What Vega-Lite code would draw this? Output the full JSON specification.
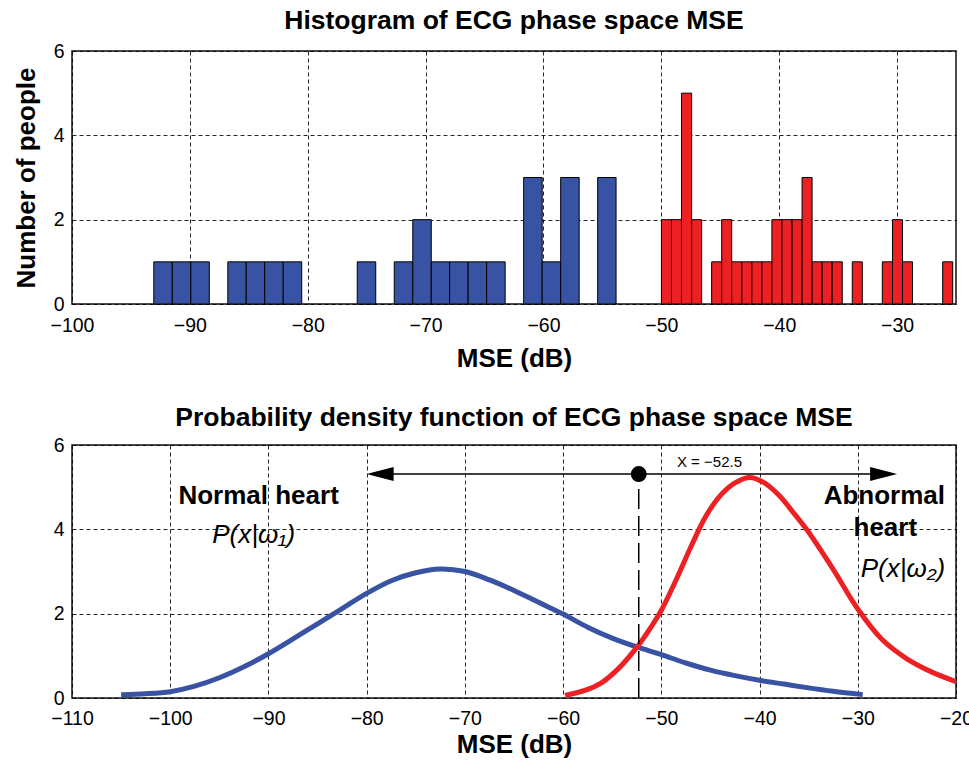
{
  "$schema": "https://vega.github.io/schema/vega-lite/v6.json",
  "background": "white",
  "padding": {"left": 12, "top": 6, "right": 0, "bottom": 5},
  "spacing": 30,
  "config": {
    "font": "Liberation Sans",
    "view": {"stroke": "#111", "strokeWidth": 1.5},
    "axis": {
      "grid": true, "gridColor": "#000", "gridDash": [4, 3], "gridWidth": 1, "gridOpacity": 0.85,
      "domain": false, "ticks": false,
      "labelFontSize": 19.5, "labelColor": "#000", "labelFont": "Liberation Sans",
      "titleFontSize": 26, "titleFontWeight": "bold", "titleColor": "#000", "titleFont": "Liberation Sans",
      "labelFlush": false, "labelOverlap": false, "labelPadding": 8
    },
    "title": {"fontSize": 26.5, "fontWeight": "bold", "color": "#000", "font": "Liberation Sans", "anchor": "middle"}
  },
  "datasets": {
    "bins": [
      {"start": -93.06, "end": -91.49, "count": 1, "group": "normal"},
      {"start": -91.49, "end": -89.92, "count": 1, "group": "normal"},
      {"start": -89.92, "end": -88.35, "count": 1, "group": "normal"},
      {"start": -86.78, "end": -85.22, "count": 1, "group": "normal"},
      {"start": -85.22, "end": -83.65, "count": 1, "group": "normal"},
      {"start": -83.65, "end": -82.08, "count": 1, "group": "normal"},
      {"start": -82.08, "end": -80.51, "count": 1, "group": "normal"},
      {"start": -75.80, "end": -74.23, "count": 1, "group": "normal"},
      {"start": -72.66, "end": -71.09, "count": 1, "group": "normal"},
      {"start": -71.09, "end": -69.52, "count": 2, "group": "normal"},
      {"start": -69.52, "end": -67.96, "count": 1, "group": "normal"},
      {"start": -67.96, "end": -66.39, "count": 1, "group": "normal"},
      {"start": -66.39, "end": -64.82, "count": 1, "group": "normal"},
      {"start": -64.82, "end": -63.25, "count": 1, "group": "normal"},
      {"start": -61.68, "end": -60.11, "count": 3, "group": "normal"},
      {"start": -60.11, "end": -58.54, "count": 1, "group": "normal"},
      {"start": -58.54, "end": -56.97, "count": 3, "group": "normal"},
      {"start": -55.40, "end": -53.84, "count": 3, "group": "normal"},
      {"start": -49.99, "end": -49.14, "count": 2, "group": "abnormal"},
      {"start": -49.14, "end": -48.29, "count": 2, "group": "abnormal"},
      {"start": -48.29, "end": -47.43, "count": 5, "group": "abnormal"},
      {"start": -47.43, "end": -46.58, "count": 2, "group": "abnormal"},
      {"start": -45.73, "end": -44.88, "count": 1, "group": "abnormal"},
      {"start": -44.88, "end": -44.03, "count": 2, "group": "abnormal"},
      {"start": -44.03, "end": -43.17, "count": 1, "group": "abnormal"},
      {"start": -43.17, "end": -42.32, "count": 1, "group": "abnormal"},
      {"start": -42.32, "end": -41.47, "count": 1, "group": "abnormal"},
      {"start": -41.47, "end": -40.62, "count": 1, "group": "abnormal"},
      {"start": -40.62, "end": -39.77, "count": 2, "group": "abnormal"},
      {"start": -39.77, "end": -38.91, "count": 2, "group": "abnormal"},
      {"start": -38.91, "end": -38.06, "count": 2, "group": "abnormal"},
      {"start": -38.06, "end": -37.21, "count": 3, "group": "abnormal"},
      {"start": -37.21, "end": -36.36, "count": 1, "group": "abnormal"},
      {"start": -36.36, "end": -35.51, "count": 1, "group": "abnormal"},
      {"start": -35.51, "end": -34.65, "count": 1, "group": "abnormal"},
      {"start": -33.80, "end": -32.95, "count": 1, "group": "abnormal"},
      {"start": -31.25, "end": -30.39, "count": 1, "group": "abnormal"},
      {"start": -30.39, "end": -29.54, "count": 2, "group": "abnormal"},
      {"start": -29.54, "end": -28.69, "count": 1, "group": "abnormal"},
      {"start": -26.13, "end": -25.28, "count": 1, "group": "abnormal"}
    ],
    "pdf": [
      {"mse": -105, "p": 0.08, "group": "normal"},
      {"mse": -102.5, "p": 0.10, "group": "normal"},
      {"mse": -100, "p": 0.15, "group": "normal"},
      {"mse": -97.5, "p": 0.28, "group": "normal"},
      {"mse": -95, "p": 0.48, "group": "normal"},
      {"mse": -92.5, "p": 0.74, "group": "normal"},
      {"mse": -90, "p": 1.05, "group": "normal"},
      {"mse": -87.5, "p": 1.40, "group": "normal"},
      {"mse": -85, "p": 1.76, "group": "normal"},
      {"mse": -82.5, "p": 2.12, "group": "normal"},
      {"mse": -80, "p": 2.48, "group": "normal"},
      {"mse": -77.5, "p": 2.78, "group": "normal"},
      {"mse": -75, "p": 2.97, "group": "normal"},
      {"mse": -72.5, "p": 3.06, "group": "normal"},
      {"mse": -70, "p": 3.0, "group": "normal"},
      {"mse": -67.5, "p": 2.8, "group": "normal"},
      {"mse": -65, "p": 2.55, "group": "normal"},
      {"mse": -62.5, "p": 2.27, "group": "normal"},
      {"mse": -60, "p": 1.99, "group": "normal"},
      {"mse": -57.5, "p": 1.68, "group": "normal"},
      {"mse": -55, "p": 1.42, "group": "normal"},
      {"mse": -52.5, "p": 1.21, "group": "normal"},
      {"mse": -50, "p": 1.03, "group": "normal"},
      {"mse": -47.5, "p": 0.83, "group": "normal"},
      {"mse": -45, "p": 0.66, "group": "normal"},
      {"mse": -42.5, "p": 0.53, "group": "normal"},
      {"mse": -40, "p": 0.42, "group": "normal"},
      {"mse": -37.5, "p": 0.33, "group": "normal"},
      {"mse": -35, "p": 0.24, "group": "normal"},
      {"mse": -32.5, "p": 0.16, "group": "normal"},
      {"mse": -29.5, "p": 0.08, "group": "normal"},
      {"mse": -59.8, "p": 0.06, "group": "abnormal"},
      {"mse": -57.8, "p": 0.18, "group": "abnormal"},
      {"mse": -56.1, "p": 0.36, "group": "abnormal"},
      {"mse": -54.4, "p": 0.69, "group": "abnormal"},
      {"mse": -52.5, "p": 1.2, "group": "abnormal"},
      {"mse": -51.0, "p": 1.7, "group": "abnormal"},
      {"mse": -50, "p": 2.08, "group": "abnormal"},
      {"mse": -48.5, "p": 2.8, "group": "abnormal"},
      {"mse": -47, "p": 3.58, "group": "abnormal"},
      {"mse": -45.5, "p": 4.3, "group": "abnormal"},
      {"mse": -44, "p": 4.8, "group": "abnormal"},
      {"mse": -42.5, "p": 5.1, "group": "abnormal"},
      {"mse": -41.0, "p": 5.23, "group": "abnormal"},
      {"mse": -39.5, "p": 5.1, "group": "abnormal"},
      {"mse": -38, "p": 4.8, "group": "abnormal"},
      {"mse": -36.5, "p": 4.38, "group": "abnormal"},
      {"mse": -35.0, "p": 3.93, "group": "abnormal"},
      {"mse": -32.5, "p": 3.05, "group": "abnormal"},
      {"mse": -30, "p": 2.11, "group": "abnormal"},
      {"mse": -27.5, "p": 1.38, "group": "abnormal"},
      {"mse": -25, "p": 0.93, "group": "abnormal"},
      {"mse": -22.5, "p": 0.62, "group": "abnormal"},
      {"mse": -20, "p": 0.39, "group": "abnormal"}
    ],
    "arrowline": [{"x": -79, "x2": -27, "y": 5.31}],
    "arrowheads": [
      {"x": -78.63, "y": 5.31, "dir": "left"},
      {"x": -27.37, "y": 5.31, "dir": "right"}
    ],
    "threshold": [{"x": -52.3, "y": 5.31, "y0": 0, "label": "X = −52.5", "lx": -45.1, "ly": 5.6}],
    "boldlabels": [
      {"x": -91.0, "y": 4.8, "text": "Normal heart"},
      {"x": -27.3, "y": 4.8, "text": "Abnormal"},
      {"x": -27.2, "y": 4.04, "text": "heart"}
    ],
    "italiclabels": [
      {"x": -91.5, "y": 3.86, "text": "P(x|ω₁)"},
      {"x": -25.4, "y": 3.06, "text": "P(x|ω₂)"}
    ]
  },
  "vconcat": [
    {
      "width": 884, "height": 253,
      "title": {"text": "Histogram of ECG phase space MSE", "offset": 7},
      "data": {"name": "bins"},
      "mark": {"type": "bar", "stroke": "#000", "strokeWidth": 1, "opacity": 1},
      "encoding": {
        "x": {"field": "start", "type": "quantitative",
              "scale": {"domain": [-100, -25], "nice": false, "zero": false},
              "axis": {"title": "MSE (dB)", "values": [-100, -90, -80, -70, -60, -50, -40, -30], "labelPadding": 12, "titlePadding": 11}},
        "x2": {"field": "end"},
        "y": {"field": "count", "type": "quantitative",
              "scale": {"domain": [0, 6], "nice": false},
              "axis": {"title": "Number of people", "values": [0, 2, 4, 6], "titlePadding": 14}},
        "y2": {"datum": 0},
        "color": {"field": "group", "type": "nominal",
                  "scale": {"domain": ["normal", "abnormal"], "range": ["#3953A4", "#ED2024"]},
                  "legend": null}
      }
    },
    {
      "width": 884, "height": 253,
      "title": {"text": "Probability density function of ECG phase space MSE", "offset": 4},
      "layer": [
        {
          "data": {"name": "pdf"},
          "mark": {"type": "line", "strokeWidth": 5, "interpolate": "catmull-rom", "clip": true},
          "encoding": {
            "x": {"field": "mse", "type": "quantitative",
                  "scale": {"domain": [-110, -20], "nice": false, "zero": false},
                  "axis": {"title": "MSE (dB)", "values": [-110, -100, -90, -80, -70, -60, -50, -40, -30, -20], "labelPadding": 11, "titlePadding": 4}},
            "y": {"field": "p", "type": "quantitative",
                  "scale": {"domain": [0, 6], "nice": false},
                  "axis": {"title": null, "values": [0, 2, 4, 6]}},
            "color": {"field": "group", "type": "nominal",
                      "scale": {"domain": ["normal", "abnormal"], "range": ["#3953A4", "#ED2024"]},
                      "legend": null}
          }
        },
        {
          "data": {"name": "arrowline"},
          "mark": {"type": "rule", "color": "#000", "strokeWidth": 1.5},
          "encoding": {
            "x": {"field": "x", "type": "quantitative"},
            "x2": {"field": "x2"},
            "y": {"field": "y", "type": "quantitative"}
          }
        },
        {
          "data": {"name": "arrowheads"},
          "mark": {"type": "point", "filled": true, "color": "#000", "opacity": 1, "size": 729},
          "encoding": {
            "x": {"field": "x", "type": "quantitative"},
            "y": {"field": "y", "type": "quantitative"},
            "shape": {"field": "dir", "type": "nominal",
                      "scale": {"domain": ["left", "right"], "range": ["M -1 0 L 1 -0.52 L 1 0.52 Z", "M 1 0 L -1 -0.52 L -1 0.52 Z"]},
                      "legend": null}
          }
        },
        {
          "data": {"name": "threshold"},
          "mark": {"type": "rule", "color": "#000", "strokeWidth": 1.5, "strokeDash": [20, 7]},
          "encoding": {
            "x": {"field": "x", "type": "quantitative"},
            "y": {"field": "y0", "type": "quantitative"},
            "y2": {"field": "y"}
          }
        },
        {
          "data": {"name": "threshold"},
          "mark": {"type": "point", "filled": true, "color": "#000", "opacity": 1, "size": 254, "shape": "circle"},
          "encoding": {
            "x": {"field": "x", "type": "quantitative"},
            "y": {"field": "y", "type": "quantitative"}
          }
        },
        {
          "data": {"name": "threshold"},
          "mark": {"type": "text", "fontSize": 15, "color": "#000", "baseline": "middle", "align": "center"},
          "encoding": {
            "x": {"field": "lx", "type": "quantitative"},
            "y": {"field": "ly", "type": "quantitative"},
            "text": {"field": "label"}
          }
        },
        {
          "data": {"name": "boldlabels"},
          "mark": {"type": "text", "fontSize": 26, "fontWeight": "bold", "color": "#000", "baseline": "middle", "align": "center"},
          "encoding": {
            "x": {"field": "x", "type": "quantitative"},
            "y": {"field": "y", "type": "quantitative"},
            "text": {"field": "text"}
          }
        },
        {
          "data": {"name": "italiclabels"},
          "mark": {"type": "text", "fontSize": 26, "fontStyle": "italic", "color": "#000", "baseline": "middle", "align": "center"},
          "encoding": {
            "x": {"field": "x", "type": "quantitative"},
            "y": {"field": "y", "type": "quantitative"},
            "text": {"field": "text"}
          }
        }
      ]
    }
  ]
}
